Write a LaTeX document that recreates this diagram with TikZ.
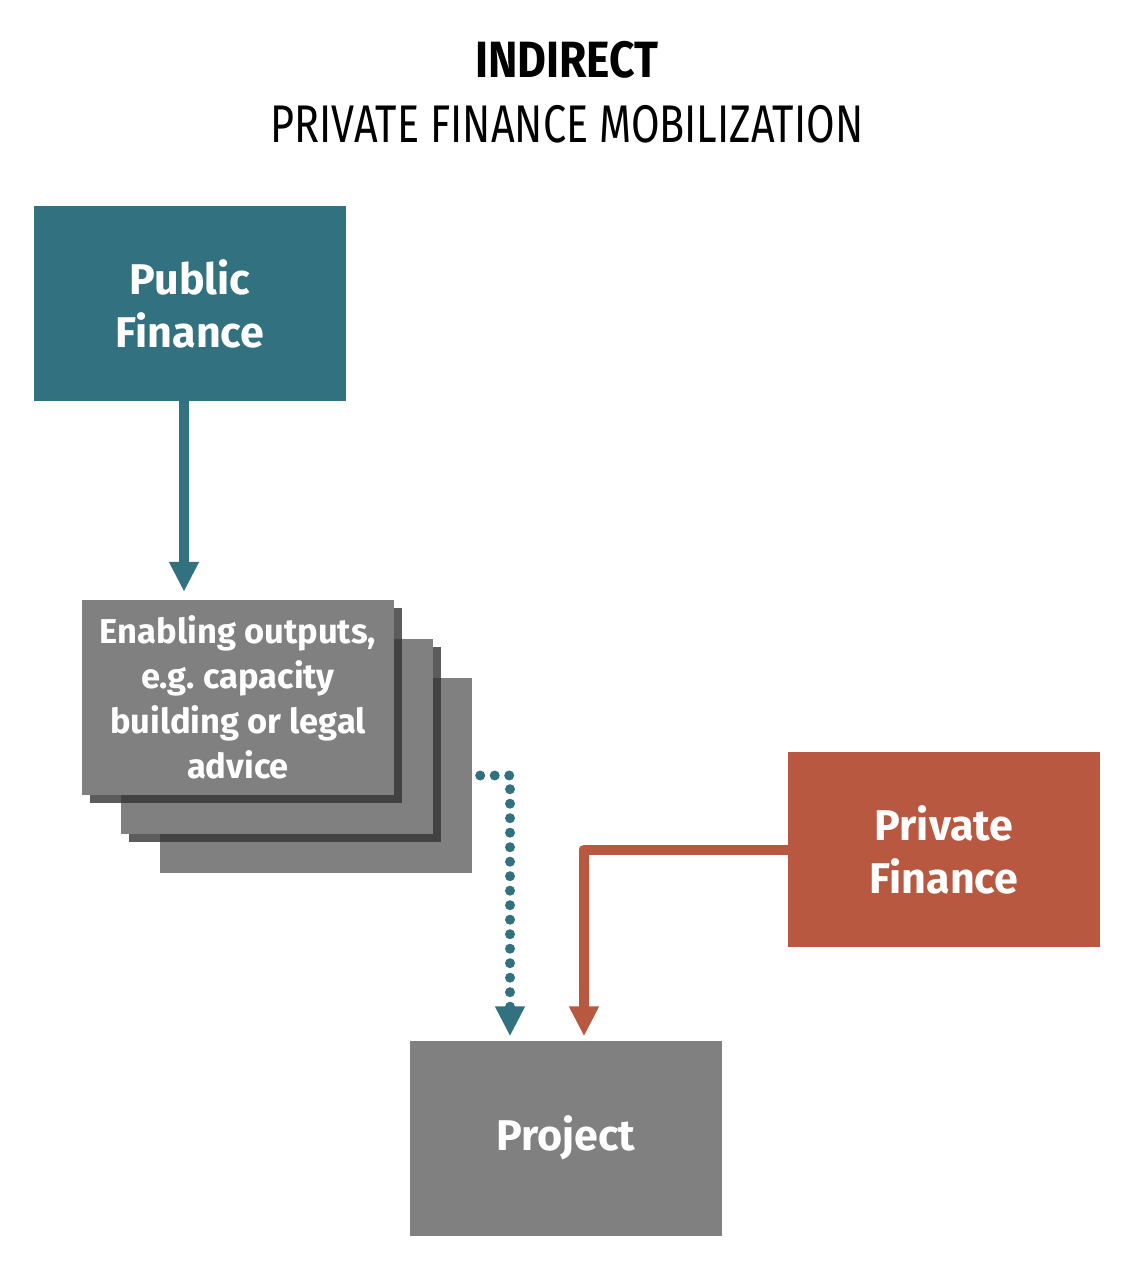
\documentclass[tikz,border=0pt]{standalone}
\usepackage{fontspec}
\setmainfont{Fira Sans}
\newfontfamily\headfont[FakeStretch=0.87]{Fira Sans}
\newfontfamily\subheadfont[FakeStretch=0.78]{Fira Sans}
\usepackage{xcolor}
\usepackage{tikz}
\usetikzlibrary{arrows.meta, positioning, shadows}

\definecolor{pubteal}{HTML}{317180}
\definecolor{privred}{HTML}{B85840}
\definecolor{boxgray}{HTML}{808080}

\begin{document}
\begin{tikzpicture}[
  x=1pt, y=-1pt,
  block/.style={rectangle, minimum width=312pt, minimum height=195pt, inner sep=0pt,
                align=center, text=white, font=\fontsize{43}{53}\selectfont\bfseries},
  stackbox/.style={block, fill=boxgray, font=\fontsize{34.5}{45}\selectfont\bfseries},
  shade/.style={drop shadow={shadow xshift=8pt, shadow yshift=-8pt, fill=black!80, opacity=0.8}},
  flow/.style={line width=10pt, -{Triangle[width=28pt, length=30pt]}},
  dotflow/.style={line width=10pt, line cap=round, dash pattern=on 0pt off 14.5pt,
                  -{Triangle[width=28pt, length=30pt]}}
]
  \useasboundingbox (0,0) rectangle (1142,1276);

  % heading
  \node[anchor=base, font=\headfont\fontsize{51}{51}\selectfont\bfseries] (head) at (567,78) {INDIRECT};
  \node[anchor=base, font=\subheadfont\fontsize{53}{53}\selectfont] (subhead) at (567,143) {PRIVATE FINANCE MOBILIZATION};

  % boxes
  \node[block, fill=pubteal] (pubfin) at (190,303.5) {Public\\Finance};
  \node[stackbox] (stack3) at (316,775.5) {};
  \node[stackbox, shade] (stack2) at (277,736.5) {};
  \node[stackbox, shade] (stack1) at (238,697.5) {Enabling outputs,\\e.g.\ capacity\\building or legal\\advice};
  \node[block, fill=privred] (privfin) at (944,849.5) {Private\\Finance};
  \node[block, fill=boxgray] (project) at (566,1138) {Project};

  % connectors
  \draw[flow, pubteal, shorten >=8pt] ([xshift=-6pt]pubfin.south) -- ([xshift=-54pt]stack1.north);
  \draw[dotflow, pubteal, shorten >=4pt] ([xshift=8pt]stack3.east) -| ([xshift=-56pt]project.north);
  \draw[flow, privred, line join=round, shorten >=4pt] (privfin.west) -| ([xshift=18pt]project.north);
\end{tikzpicture}
\end{document}
